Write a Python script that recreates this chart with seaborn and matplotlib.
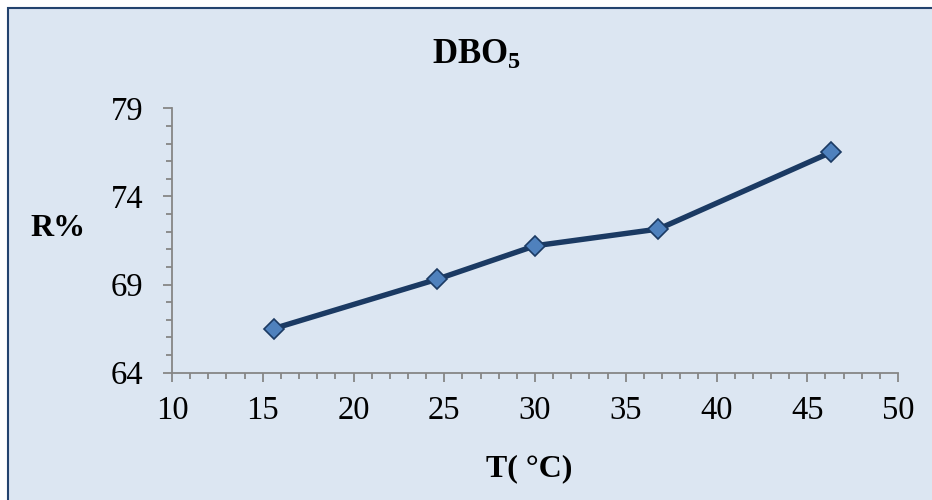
import matplotlib
matplotlib.use("Agg")
import matplotlib.pyplot as plt
from matplotlib.patches import Rectangle
from matplotlib.ticker import MultipleLocator
import seaborn as sns
import pandas as pd

# Temperature (°C) and removal rate R% for DBO5
temperature = [15.6, 24.6, 30.0, 36.8, 46.3]
removal = [66.5, 69.3, 71.2, 72.15, 76.5]
x_ticks = [10, 15, 20, 25, 30, 35, 40, 45, 50]
y_ticks = [64, 69, 74, 79]

bg = "#DCE6F2"
line_col = "#1B3A63"
marker_fill = "#4F81BD"
axis_col = "#868686"

sns.set_theme(style="white", rc={"axes.facecolor": bg, "figure.facecolor": "white"})
plt.rcParams["font.family"] = ["Liberation Serif", "DejaVu Serif"]
plt.rcParams["text.color"] = "black"
plt.rcParams["mathtext.fontset"] = "custom"
plt.rcParams["mathtext.rm"] = "Liberation Serif"
plt.rcParams["mathtext.bf"] = "Liberation Serif:bold"

W, H = 932, 500
fig = plt.figure(figsize=(W / 100, H / 100), dpi=100)

# Chart area panel with a dark blue border on the top and left edges
panel = Rectangle((7.5 / W, -0.1), 1.2, 1.1 - 8.5 / H, transform=fig.transFigure,
                  facecolor=bg, edgecolor="#23436E", linewidth=1.5, zorder=-10)
fig.patches.append(panel)

left, right = 172 / W, 898 / W
bottom, top = 1 - 372.7 / H, 1 - 108.3 / H
ax = fig.add_axes([left, bottom, right - left, top - bottom])
ax.set_facecolor("none")

df = pd.DataFrame({"T": temperature, "R": removal})
sns.lineplot(data=df, x="T", y="R", ax=ax, color=line_col, linewidth=3.9,
             marker="D", markersize=10, markerfacecolor=marker_fill,
             markeredgecolor=line_col, markeredgewidth=1.2, sort=False, zorder=3)

ax.set_xlim(x_ticks[0], x_ticks[-1])
ax.set_ylim(y_ticks[0], y_ticks[-1])
ax.set_xticks(x_ticks)
ax.set_yticks(y_ticks)
ax.xaxis.set_minor_locator(MultipleLocator(1))
ax.yaxis.set_minor_locator(MultipleLocator(1))

for side in ("top", "right"):
    ax.spines[side].set_visible(False)
for side in ("left", "bottom"):
    ax.spines[side].set_color(axis_col)
    ax.spines[side].set_linewidth(1.3)

ax.tick_params(which="major", direction="out", length=6.5, width=1.3, color=axis_col,
               labelsize=23.5, labelcolor="black", left=True, bottom=True)
ax.tick_params(which="minor", direction="out", length=4.3, width=1.3, color=axis_col,
               left=True, bottom=True)
ax.tick_params(axis="y", which="major", pad=14)
ax.tick_params(axis="x", which="major", pad=10)

ax.set_xlabel("")
ax.set_ylabel("")

fig.text(476 / W, 1 - 64.3 / H, r"$\mathbf{DBO_5}$", ha="center", va="baseline",
         fontsize=25, color="black")
fig.text(529 / W, 1 - 476.7 / H, "T( °C)", ha="center", va="baseline",
         fontsize=23, fontweight="bold", color="black")
fig.text(58 / W, 1 - 236 / H, "R%", ha="center", va="baseline",
         fontsize=23, fontweight="bold", color="black")

fig.savefig("out.png", dpi=100)
